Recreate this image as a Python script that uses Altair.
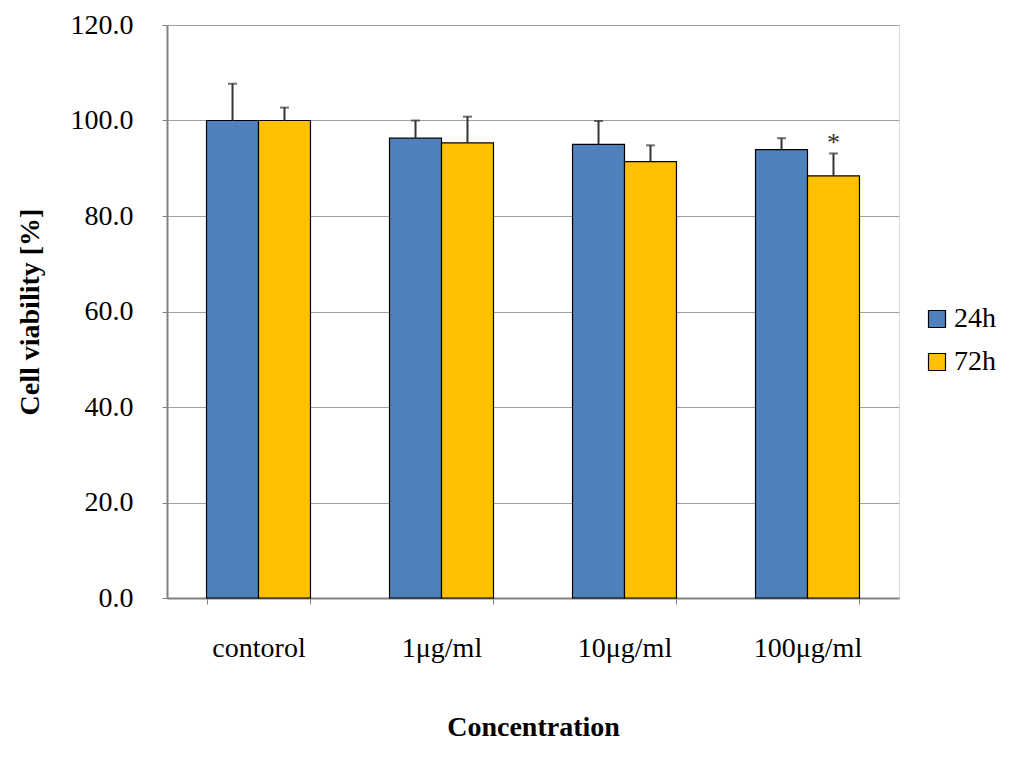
import altair as alt
import pandas as pd

categories = ["contorol", "1μg/ml", "10μg/ml", "100μg/ml"]
series = ["24h", "72h"]
mean_24h = [100.0, 96.3, 95.0, 93.9]
sd_24h = [7.7, 3.7, 4.9, 2.4]
mean_72h = [100.0, 95.3, 91.4, 88.4]
sd_72h = [2.7, 5.5, 3.4, 4.7]
mark_72h = ["", "", "", "*"]
y_ticks = [0, 20, 40, 60, 80, 100, 120]

rows = []
for i, c in enumerate(categories):
    rows.append({"conc": c, "time": "24h", "mean": mean_24h[i], "sd": sd_24h[i],
                 "top": mean_24h[i] + sd_24h[i], "star": ""})
    rows.append({"conc": c, "time": "72h", "mean": mean_72h[i], "sd": sd_72h[i],
                 "top": mean_72h[i] + sd_72h[i], "star": mark_72h[i]})
df = pd.DataFrame(rows)

FONT = "Liberation Serif"

x = alt.X("conc:N", sort=categories, title="Concentration",
          scale=alt.Scale(paddingInner=0.432, paddingOuter=0.216),
          axis=alt.Axis(labelAngle=0, labelFont=FONT, labelFontSize=28, labelColor="black",
                        titleFont=FONT, titleFontSize=28, titleFontWeight="bold", titleColor="black",
                        labelPadding=30, titlePadding=51, tickBand="extent", tickSize=6,
                        tickColor="#808080", domainColor="#808080", domainWidth=2, grid=False))
xo = alt.XOffset("time:N", sort=series)
color = alt.Color("time:N", sort=series,
                  scale=alt.Scale(domain=series, range=["#4F81BD", "#FFC000"]),
                  legend=alt.Legend(title=None, orient="none", legendX=756, legendY=280,
                                    labelFont=FONT, labelFontSize=28, labelColor="black",
                                    symbolType="square", symbolSize=289, symbolStrokeColor="black",
                                    symbolStrokeWidth=1.2, rowPadding=15, labelOffset=3))

y_axis = alt.Axis(values=y_ticks, format=".1f", labelFont=FONT, labelFontSize=28, labelColor="black",
                  titleFont=FONT, titleFontSize=28, titleFontWeight="bold", titleColor="black",
                  labelPadding=29, titlePadding=26, tickSize=5, tickColor="#808080",
                  domainColor="#808080", domainWidth=2, gridColor="#A0A0A0", gridWidth=1.2)
yscale = alt.Scale(domain=[0, 120], nice=False)

base = alt.Chart(df)

bars = base.mark_bar(stroke="black", strokeWidth=1.2, opacity=1).encode(
    x=x, xOffset=xo,
    y=alt.Y("mean:Q", scale=yscale, axis=y_axis, title="Cell viability [%]"),
    color=color,
)

err = base.mark_rule(color="#333333", strokeWidth=2).encode(
    x=x, xOffset=xo,
    y=alt.Y("mean:Q", scale=yscale), y2="top:Q",
)

caps = base.mark_tick(color="#333333", size=9, thickness=2).encode(
    x=x, xOffset=xo,
    y=alt.Y("top:Q", scale=yscale),
)

stars = base.mark_text(font=FONT, fontSize=26, color="#333333", dy=-10).encode(
    x=x, xOffset=xo,
    y=alt.Y("top:Q", scale=yscale),
    text="star:N",
)

chart = alt.layer(bars, err, caps, stars).properties(
    width=732, height=573,
    autosize=alt.AutoSizeParams(type="none"),
    padding={"left": 159, "top": 17, "right": 117, "bottom": 155},
).configure_view(stroke="#808080", strokeWidth=2).configure(background="white")

chart.save("out.html", embed_options={"renderer": "svg", "actions": False})
